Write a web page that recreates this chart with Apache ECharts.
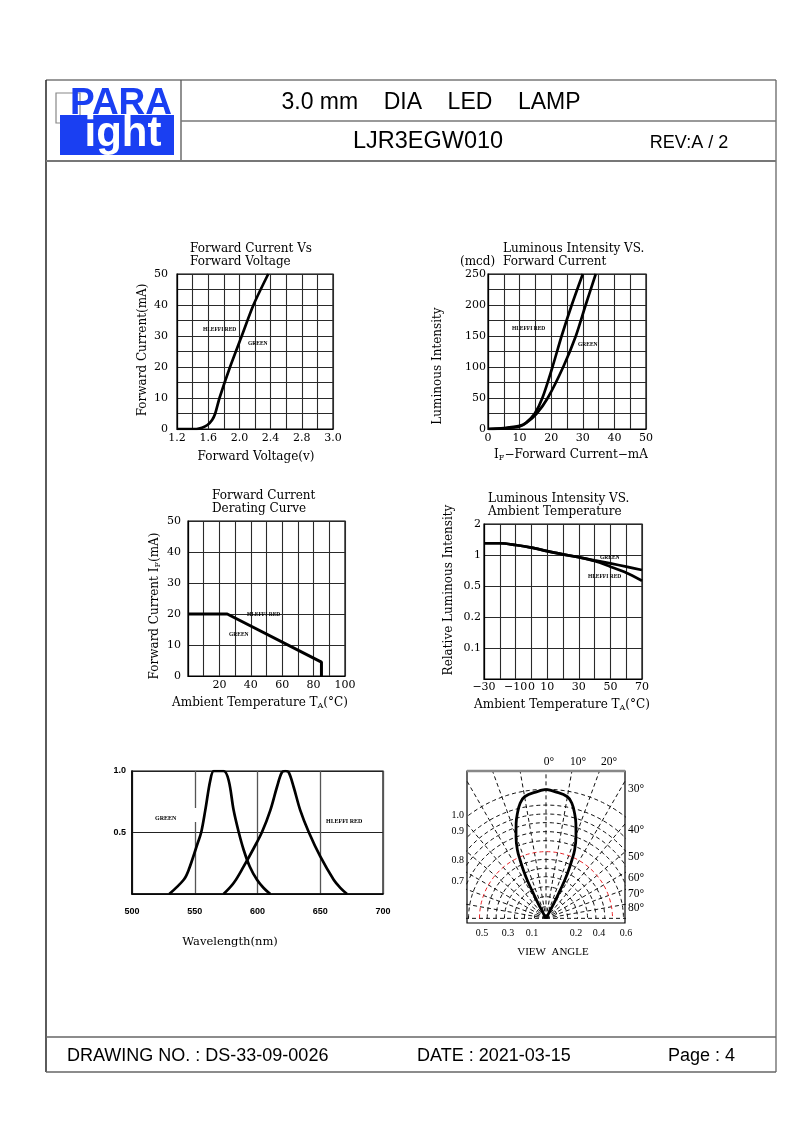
<!DOCTYPE html>
<html>
<head>
<meta charset="utf-8">
<script src="https://cdn.jsdelivr.net/npm/echarts@6.0.0/dist/echarts.min.js"></script>
<style>
html,body{margin:0;padding:0;background:#fff;}
#chart{width:794px;height:1123px;}
</style>
</head>
<body>
<div id="chart"></div>
<script>
// ================= DATA =================
// 1. Forward current vs forward voltage
const vfVoltage = [1.2, 1.35, 1.45, 1.52, 1.59, 1.65, 1.69, 1.745, 1.88, 2.03, 2.18, 2.37];
const vfCurrent = [0, 0, 0, 0.4, 1.3, 2.9, 5, 10, 20, 30, 40, 50];
const vfTickLabels = ['1.2', '', '1.6', '', '2.0', '', '2.4', '', '2.8', '', '3.0'];

// 2. Luminous intensity vs forward current
const ivCurrentRed = [0, 5, 10, 12, 14.8, 17.2, 20.4, 23.3, 26.5, 30];
const ivMcdRed = [0, 1.5, 5, 10, 25, 50, 100, 150, 200, 250];
const ivCurrentGreen = [0, 5, 10, 12.2, 15.4, 18.9, 23.8, 27.8, 30.9, 34.1];
const ivMcdGreen = [0, 1, 4, 10, 25, 50, 100, 150, 200, 250];

// 3. Forward current derating curve
const deratingTemp = [0, 25, 85, 85];
const deratingCurrent = [20, 20, 4.5, 0];

// 4. Relative luminous intensity vs ambient temperature
const ambientTemp = [-30, -20, -10, 0, 10, 20, 30, 40, 50, 60, 70];
const relRed = [1.30, 1.30, 1.25, 1.18, 1.09, 1.015, 0.95, 0.874, 0.77, 0.673, 0.563];
const relGreen = [1.30, 1.30, 1.25, 1.18, 1.09, 1.015, 0.95, 0.888, 0.83, 0.77, 0.715];
const ambientTickValues = [-30, -10, 0, 10, 30, 50, 70];
const ambientTickLabels = ['\u221230', '\u221210', '0', '10', '30', '50', '70'];
const relTickValues = [2, 1, 0.5, 0.25, 0.125];
const relTickLabels = ['2', '1', '0.5', '0.2', '0.1'];

// 5. Spectrum
const greenWl = [529.7, 541.2, 545.2, 552.3, 555.2, 558.4, 562.4, 565.1, 568, 573, 577, 581, 585, 589, 593.8, 599.6, 604.9, 610.2];
const greenRel = [0, 0.116, 0.197, 0.413, 0.504, 0.682, 0.925, 1.0, 1.0, 1.0, 0.925, 0.68, 0.504, 0.358, 0.224, 0.116, 0.049, 0];
const redWl = [573, 581, 589, 597, 603.6, 610.2, 615.5, 619.5, 622.2, 624.8, 628.8, 634.1, 640.8, 650, 660.7, 666, 671.3];
const redRel = [0, 0.089, 0.224, 0.372, 0.504, 0.68, 0.87, 0.99, 1.0, 0.99, 0.87, 0.68, 0.504, 0.305, 0.116, 0.05, 0];

// 6. Radiation pattern (angle in degrees, relative intensity)
const patternAngle = [0, 4, 10, 12.7, 15.3, 17.5, 20.2, 22.8, 24, 25.2, 26.2, 26.8, 27.5, 28, 28.5];
const patternRel = [1.0, 0.985, 0.957, 0.914, 0.843, 0.772, 0.675, 0.574, 0.495, 0.414, 0.333, 0.246, 0.162, 0.073, 0];
const polarSpokes = [-90, -80, -70, -60, -50, -40, -30, -20, -10, 0, 10, 20, 30, 40, 50, 60, 70, 80, 90];
const polarArcs = [0.09, 0.168, 0.245, 0.323, 0.388, 0.457, 0.517, 0.602, 0.672, 0.742, 0.809, 0.878, 1.0];
const polarRedArc = 0.517;
const polarTopLabels = ['0\u00b0', '10\u00b0', '20\u00b0'];
const polarRightLabels = ['30\u00b0', '40\u00b0', '50\u00b0', '60\u00b0', '70\u00b0', '80\u00b0'];
const polarLeftLabels = ['1.0', '0.9', '0.8', '0.7'];
const polarBottomLabels = ['0.5', '0.3', '0.1', '0.2', '0.4', '0.6'];

// ================= STYLE =================
const SERIF = '"DejaVu Serif", serif';
const TIMES = '"Liberation Serif", "Times New Roman", serif';
const SANS = '"Liberation Sans", Arial, sans-serif';
const GRIDC = '#2a2a2a';

const chart = echarts.init(document.getElementById('chart'), null, {renderer: 'canvas', width: 794, height: 1123});

function pairs(xs, ys) { return xs.map((x, i) => [x, ys[i]]); }
function nearestLabel(v, vals, labels) {
  for (let i = 0; i < vals.length; i++) if (Math.abs(v - vals[i]) < 1e-6 * Math.max(1, Math.abs(vals[i]))) return labels[i];
  return '';
}
function baseAxis(gi, o) {
  return Object.assign({
    gridIndex: gi, type: 'value',
    axisLine: {show: true, onZero: false, lineStyle: {color: '#000', width: 1.2}},
    axisTick: {show: false},
    splitLine: {show: true, lineStyle: {color: GRIDC, width: 1.1}},
    axisLabel: {color: '#000', fontFamily: SERIF, fontSize: 11}
  }, o);
}
const toXY = (deg, r) => [r * Math.sin(deg * Math.PI / 180), r * Math.cos(deg * Math.PI / 180)];

const grids = [
  {left: 177, top: 274, width: 156, height: 155},
  {left: 488, top: 274, width: 158, height: 155},
  {left: 188, top: 521, width: 157, height: 155},
  {left: 484, top: 524, width: 158, height: 155},
  {left: 132, top: 771, width: 251, height: 123},
  {left: 467, top: 771, width: 158, height: 152}
].map(g => Object.assign({show: true, borderColor: '#000', borderWidth: 1.2, backgroundColor: 'transparent', outerBoundsMode: 'none', containLabel: false}, g));

const xAxes = [
  baseAxis(0, {min: 1.2, max: 3.2, interval: 0.2, axisLabel: {color: '#000', fontFamily: SERIF, fontSize: 11, margin: 4,
    formatter: v => vfTickLabels[Math.round((v - 1.2) / 0.2)] || ''}}),
  baseAxis(1, {min: 0, max: 50, interval: 5, axisLabel: {color: '#000', fontFamily: SERIF, fontSize: 11, margin: 4,
    formatter: v => (Math.round(v) % 10 === 0 ? String(v) : '')}}),
  baseAxis(2, {min: 0, max: 100, interval: 10, axisLabel: {color: '#000', fontFamily: SERIF, fontSize: 11, margin: 4,
    formatter: v => (v > 0 && Math.round(v) % 20 === 0 ? String(v) : '')}}),
  baseAxis(3, {min: -30, max: 70, interval: 10, axisLabel: {color: '#000', fontFamily: SERIF, fontSize: 11, margin: 3,
    formatter: v => nearestLabel(v, ambientTickValues, ambientTickLabels)}}),
  baseAxis(4, {min: 500, max: 700, interval: 50, axisLine: {show: true, onZero: false, lineStyle: {color: '#000', width: 1.6}},
    splitLine: {show: true, lineStyle: {color: '#555', width: 1.3}},
    axisLabel: {color: '#000', fontFamily: SANS, fontWeight: 'bold', fontSize: 9, margin: 13}}),
  {gridIndex: 5, type: 'value', min: -0.614, max: 0.614, show: false, splitLine: {show: false}}
];
const yAxes = [
  baseAxis(0, {min: 0, max: 50, interval: 5, axisLabel: {color: '#000', fontFamily: SERIF, fontSize: 11, margin: 9,
    formatter: v => (Math.round(v) % 10 === 0 ? String(v) : '')}}),
  baseAxis(1, {min: 0, max: 250, interval: 25, axisLabel: {color: '#000', fontFamily: SERIF, fontSize: 11, margin: 2,
    formatter: v => (Math.round(v) % 50 === 0 ? String(v) : '')}}),
  baseAxis(2, {min: 0, max: 50, interval: 10, axisLabel: {color: '#000', fontFamily: SERIF, fontSize: 11, margin: 7}}),
  baseAxis(3, {type: 'log', logBase: 2, min: 0.0625, max: 2, splitNumber: 5, axisLabel: {color: '#000', fontFamily: SERIF, fontSize: 11, margin: 3,
    formatter: v => nearestLabel(v, relTickValues, relTickLabels)}}),
  baseAxis(4, {min: 0, max: 1, interval: 0.5, axisLine: {show: true, onZero: false, lineStyle: {color: '#000', width: 1.6}},
    splitLine: {show: true, lineStyle: {color: '#222', width: 1}},
    axisLabel: {color: '#000', fontFamily: SANS, fontWeight: 'bold', fontSize: 9, margin: 6,
    formatter: v => (v === 0 ? '' : v.toFixed(1))}}),
  {gridIndex: 5, type: 'value', min: -0.036, max: 1.142, show: false, splitLine: {show: false}}
];

const curve = (xi, data, extra) => Object.assign({
  type: 'line', xAxisIndex: xi, yAxisIndex: xi, data: data, symbol: 'none', silent: true,
  lineStyle: {color: '#000', width: 2.7}, z: 5
}, extra || {});

const series = [
  curve(0, pairs(vfVoltage, vfCurrent), {smooth: 0.25}),
  curve(1, pairs(ivCurrentRed, ivMcdRed), {smooth: 0.3}),
  curve(1, pairs(ivCurrentGreen, ivMcdGreen), {smooth: 0.3}),
  curve(2, pairs(deratingTemp, deratingCurrent), {lineStyle: {color: '#000', width: 3}}),
  curve(3, pairs(ambientTemp, relGreen), {smooth: 0.3}),
  curve(3, pairs(ambientTemp, relRed), {smooth: 0.3}),
  curve(4, pairs(greenWl, greenRel), {smooth: 0.35}),
  curve(4, pairs(redWl, redRel), {smooth: 0.35})
];

// radiation pattern grid: spokes and arcs (clipped by the grid)
polarSpokes.forEach(a => {
  series.push({type: 'line', xAxisIndex: 5, yAxisIndex: 5, data: [[0, 0], toXY(a, 2)], symbol: 'none', silent: true, clip: true,
    lineStyle: {color: '#111', width: 1, type: [4, 3]}, z: 2});
});
polarArcs.forEach(r => {
  const pts = [];
  for (let d = -90; d <= 90; d += 2) pts.push(toXY(d, r));
  const red = Math.abs(r - polarRedArc) < 1e-9;
  series.push({type: 'line', xAxisIndex: 5, yAxisIndex: 5, data: pts, symbol: 'none', silent: true, clip: true, smooth: false,
    lineStyle: {color: red ? '#e8262a' : '#111', width: 1, type: [4, 3]}, z: red ? 3 : 2});
});
const leftHalf = [], rightHalf = [];
for (let i = patternAngle.length - 1; i >= 0; i--) leftHalf.push(toXY(-patternAngle[i], patternRel[i]));
for (let i = patternAngle.length - 1; i >= 0; i--) rightHalf.push(toXY(patternAngle[i], patternRel[i]));
series.push(curve(5, leftHalf, {smooth: 0.4, lineStyle: {color: '#000', width: 2.8}}));
series.push(curve(5, rightHalf, {smooth: 0.4, lineStyle: {color: '#000', width: 2.8}}));

// ================= GRAPHIC (frame, header, text) =================
const G = [];
function line(x1, y1, x2, y2, stroke, w) {
  G.push({type: 'line', shape: {x1, y1, x2, y2}, style: {stroke: stroke || '#444', lineWidth: w || 1.2}, silent: true, z: 20});
}
function txt(x, y, text, size, family, o) {
  o = o || {};
  G.push({type: 'text', x: x, y: y, rotation: o.rot || 0, silent: true, z: 21,
    style: {text: text, fontSize: size, fontFamily: family, fontWeight: o.weight || 'normal', fill: o.fill || '#000',
      align: o.align || 'center', verticalAlign: o.va || 'middle', lineHeight: o.lh, rich: o.rich}});
}

// page frame
line(46, 80, 776, 80, '#777', 1.5);
line(46, 80, 46, 1072, '#333', 1.6);
line(776, 80, 776, 1072, '#666', 1.3);
line(181, 80, 181, 161, '#555', 1.3);
line(181, 121, 776, 121, '#777', 1.3);
line(46, 161, 776, 161, '#777', 2);
line(46, 1037, 776, 1037, '#666', 1.5);
line(46, 1072, 776, 1072, '#666', 1.5);

// logo
G.push({type: 'rect', shape: {x: 56, y: 93, width: 24, height: 30}, style: {fill: '#fff', stroke: '#888', lineWidth: 1.2}, z: 20});
G.push({type: 'rect', shape: {x: 60, y: 115, width: 114, height: 40}, style: {fill: '#1a3ff2'}, z: 20});
txt(121, 104, 'PARA', 37, SANS, {weight: 'bold', fill: '#1a3ff2'});
txt(123, 134, 'ight', 42, SANS, {weight: 'bold', fill: '#fff'});

// header text
txt(431, 103, '3.0 mm    DIA    LED    LAMP', 23, SANS);
txt(428, 142, 'LJR3EGW010', 23.5, SANS);
txt(689, 143, 'REV:A / 2', 18, SANS);

// footer
txt(67, 1056, 'DRAWING NO. : DS-33-09-0026', 18, SANS, {align: 'left'});
txt(417, 1056, 'DATE : 2021-03-15', 18, SANS, {align: 'left'});
txt(735, 1056, 'Page : 4', 18, SANS, {align: 'right'});

const SUB = {fontSize: 8, fontFamily: SERIF, verticalAlign: 'bottom', padding: [5, 0, 0, 0]};
const NORM = {fontSize: 12, fontFamily: SERIF};

// chart 1 texts
txt(190, 242, 'Forward Current Vs\nForward Voltage', 12, SERIF, {align: 'left', va: 'top', lh: 13});
txt(143, 350, 'Forward Current(mA)', 12, SERIF, {rot: Math.PI / 2});
txt(256, 457, 'Forward Voltage(v)', 12, SERIF);
txt(203, 330, 'HI.EFFI RED', 5.5, TIMES, {align: 'left', weight: 'bold'});
txt(248, 344, 'GREEN', 5.5, TIMES, {align: 'left', weight: 'bold'});

// chart 2 texts
txt(503, 242, 'Luminous Intensity VS.\nForward Current', 12, SERIF, {align: 'left', va: 'top', lh: 13});
txt(460, 262, '(mcd)', 12, SERIF, {align: 'left'});
txt(438, 366, 'Luminous Intensity', 12, SERIF, {rot: Math.PI / 2});
txt(571, 455, '{n|I}{s|F}{n|\u2212Forward Current\u2212mA}', 12, SERIF, {rich: {n: NORM, s: SUB}});
txt(512, 329, 'HI.EFFI RED', 5.5, TIMES, {align: 'left', weight: 'bold'});
txt(578, 345, 'GREEN', 5.5, TIMES, {align: 'left', weight: 'bold'});

// chart 3 texts
txt(212, 489, 'Forward Current\nDerating Curve', 12, SERIF, {align: 'left', va: 'top', lh: 13});
txt(155, 606, '{n|Forward Current I}{s|F}{n|(mA)}', 12, SERIF, {rot: Math.PI / 2, rich: {n: NORM, s: SUB}});
txt(260, 703, '{n|Ambient Temperature T}{s|A}{n|(\u00b0C)}', 12, SERIF, {rich: {n: NORM, s: SUB}});
txt(247, 615, 'HI.EFFI RED', 5.5, TIMES, {align: 'left', weight: 'bold'});
txt(229, 635, 'GREEN', 5.5, TIMES, {align: 'left', weight: 'bold'});

// chart 4 texts
txt(488, 492, 'Luminous Intensity VS.\nAmbient Temperature', 12, SERIF, {align: 'left', va: 'top', lh: 13});
txt(449, 590, 'Relative Luminous Intensity', 12, SERIF, {rot: Math.PI / 2});
txt(562, 705, '{n|Ambient Temperature T}{s|A}{n|(\u00b0C)}', 12, SERIF, {rich: {n: NORM, s: SUB}});
txt(600, 558, 'GREEN', 5.5, TIMES, {align: 'left', weight: 'bold'});
txt(588, 577, 'HI.EFFI RED', 5.5, TIMES, {align: 'left', weight: 'bold'});

// chart 5 texts
G.push({type: 'rect', shape: {x: 192, y: 808, width: 5, height: 14}, style: {fill: '#fff'}, z: 19});
txt(155, 818, 'GREEN', 6, TIMES, {align: 'left', weight: 'bold'});
txt(326, 821, 'HI.EFFI RED', 6, TIMES, {align: 'left', weight: 'bold'});
txt(230, 942, 'Wavelength(nm)', 11.5, SERIF);

// chart 6 texts
line(467, 771, 625, 771, '#888', 2.5);
const topX = [549, 578, 609];
polarTopLabels.forEach((t, i) => txt(topX[i], 762, t, 11.5, TIMES));
const rightY = [789, 830, 857, 878, 894, 908];
polarRightLabels.forEach((t, i) => txt(628, rightY[i], t, 11.5, TIMES, {align: 'left'}));
const leftY = [815, 831, 860, 881];
polarLeftLabels.forEach((t, i) => txt(464, leftY[i], t, 10, TIMES, {align: 'right'}));
const botX = [482, 508, 532, 576, 599, 626];
polarBottomLabels.forEach((t, i) => txt(botX[i], 933, t, 10, TIMES));
txt(553, 952, 'VIEW  ANGLE', 11, TIMES);

chart.setOption({
  animation: false,
  backgroundColor: '#fff',
  textStyle: {fontFamily: SERIF},
  grid: grids,
  xAxis: xAxes,
  yAxis: yAxes,
  series: series,
  graphic: {elements: G}
});
</script>
</body>
</html>
